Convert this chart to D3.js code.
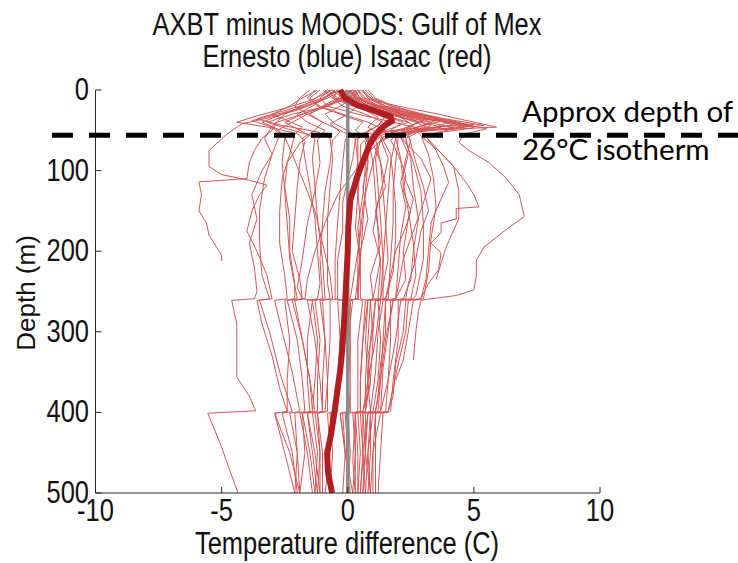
<!DOCTYPE html>
<html><head><meta charset="utf-8">
<script src="https://cdn.jsdelivr.net/npm/d3@7"></script>
<style>body{margin:0;background:#fff}svg{display:block}</style>
</head><body>
<svg id="c" width="738" height="563"></svg>
<script>
// ---- data (depth m, temperature difference C) ----
const titleLines = ["AXBT minus MOODS: Gulf of Mex", "Ernesto (blue) Isaac (red)"];
const xTicks = [-10, -5, 0, 5, 10];
const yTicks = [0, 100, 200, 300, 400, 500];
const xLabel = "Temperature difference (C)";
const yLabel = "Depth (m)";
const isothermDepth = 56;
const isothermText = ["Approx depth of", "26°C isotherm"];
const zeroLine = [[0, 0], [500, 0]];

const meanProfile = [[0,-0.3],[10,-0.1],[19,0.4],[27,1.2],[33,1.7],[38,1.75],[42,1.55],[50,1.25],[56,1.1],[66,0.9],[77,0.75],[93,0.55],[110,0.35],[137,0.1],[170,0.02],[200,0.0],[230,-0.05],[261,-0.1],[290,-0.15],[323,-0.22],[348,-0.3],[375,-0.42],[398,-0.52],[425,-0.65],[451,-0.82],[475,-0.78],[500,-0.62]];

const profiles = [
 [[0,0.4],[10,0.6],[20,2.0],[30,3.6],[40,5.0],[46,5.9],[50,3.2],[54,2.0],[62,1.7],[80,2.0],[105,2.3],[125,2.2],[150,2.5],[170,2.3],[200,1.9],[230,1.7],[259,1.5],[261,1.1],[300,1.0],[330,0.8],[365,0.9],[399,0.6],[401,0.4],[450,0.5],[500,0.4]],
 [[0,-0.1],[8,0.3],[18,1.0],[28,2.4],[36,3.9],[44,5.4],[49,3.4],[55,1.4],[65,1.0],[90,1.3],[120,1.5],[140,1.2],[175,1.0],[210,1.3],[259,1.0],[261,1.3],[310,1.1],[360,0.8],[399,0.9],[401,0.6],[460,0.6],[500,0.5]],
 [[0,0.5],[10,0.9],[20,1.5],[30,2.8],[40,4.2],[48,5.5],[55,4.6],[65,4.4],[75,4.8],[90,5.6],[110,6.3],[130,6.8],[157,7.0],[175,6.2],[195,5.4],[211,5.1],[230,5.1],[248,5.0],[255,4.3],[259,3.3],[261,2.9],[275,2.8],[300,2.7],[335,2.6]],
 [[0,-0.3],[10,0.2],[20,0.9],[30,2.2],[38,3.6],[45,4.8],[52,3.6],[60,3.0],[75,3.6],[95,4.2],[115,4.7],[130,5.0],[145,5.2],[147,4.3],[160,4.3],[165,3.7],[177,3.7],[190,3.3],[202,3.7],[223,3.6],[240,3.2],[259,2.9],[261,2.3],[300,2.2],[340,1.9],[380,1.8],[399,1.6],[401,1.3],[450,1.0],[500,0.9]],
 [[0,0.2],[10,0.5],[20,1.3],[30,2.6],[42,4.6],[48,3.0],[56,2.4],[66,2.5],[90,2.7],[120,3.0],[150,3.2],[175,2.9],[210,2.7],[240,2.4],[259,2.3],[261,1.8],[300,1.6],[345,1.4],[399,1.3],[401,0.9],[450,0.9],[500,0.8]],
 [[0,-0.6],[10,-0.2],[20,0.6],[30,2.0],[38,3.8],[45,2.9],[52,1.8],[60,1.3],[85,1.6],[115,1.4],[150,1.1],[190,1.3],[230,0.9],[259,1.0],[261,0.7],[310,0.6],[360,0.5],[399,0.5],[401,0.3],[460,0.2],[500,0.3]],
 [[0,0.1],[10,0.3],[22,0.9],[32,2.1],[40,3.2],[47,4.2],[52,2.6],[58,2.1],[80,2.4],[105,2.2],[135,2.6],[160,2.4],[200,2.2],[235,2.3],[259,1.9],[261,1.4],[300,1.2],[350,1.1],[399,0.9],[401,0.7],[450,0.7],[500,0.6]],
 [[0,-0.4],[12,0.1],[24,1.0],[34,2.2],[44,3.3],[50,2.8],[58,3.1],[75,3.5],[95,3.8],[115,4.0],[135,3.7],[165,3.3],[200,3.2],[235,3.1],[259,2.9],[261,2.4],[300,2.3],[340,2.0],[399,1.6],[401,1.1],[450,1.1],[500,1.1]],
 [[0,0.6],[10,0.8],[20,1.4],[30,2.2],[40,2.8],[48,2.2],[55,1.0],[65,0.7],[90,0.8],[120,0.6],[160,0.8],[200,0.5],[240,0.4],[259,0.4],[261,0.1],[320,0.1],[370,0.0],[399,0.0],[401,-0.3],[450,-0.1],[500,0.1]],
 [[0,-1.0],[10,-0.6],[20,0.2],[30,1.8],[38,3.4],[43,5.0],[48,2.6],[54,0.8],[62,0.3],[85,0.2],[110,0.0],[140,-0.2],[175,-0.2],[210,-0.4],[259,-0.4],[261,-0.7],[310,-0.7],[360,-0.8],[399,-0.9],[401,-1.2],[450,-1.1],[500,-1.1]],
 [[0,0.0],[8,0.2],[18,0.9],[28,2.3],[36,3.6],[44,3.0],[52,2.2],[62,2.5],[85,2.3],[115,2.1],[145,2.3],[180,2.1],[220,2.0],[259,1.9],[261,1.5],[310,1.4],[360,1.3],[399,1.2],[401,0.9],[450,0.8],[500,0.7]],
 [[0,0.3],[12,0.5],[25,1.6],[35,3.0],[45,4.8],[50,3.0],[56,1.8],[66,1.2],[90,1.0],[115,0.8],[145,0.6],[180,0.5],[220,0.3],[259,0.1],[261,-0.4],[310,-0.3],[360,-0.4],[399,-0.5],[401,-0.8],[450,-0.7],[500,-0.9]],
 [[0,-0.8],[10,-0.4],[22,0.4],[32,1.5],[40,2.4],[48,1.7],[56,0.9],[68,0.5],[95,0.5],[130,0.4],[170,0.3],[210,0.5],[259,0.4],[261,0.0],[320,0.1],[370,0.1],[399,0.1],[401,-0.1],[450,0.0],[500,0.0]],
 [[0,0.7],[10,1.0],[20,1.7],[30,2.9],[40,4.0],[46,3.5],[52,2.3],[60,1.9],[85,2.1],[115,2.2],[150,2.4],[190,2.6],[230,2.7],[259,2.5],[261,2.0],[310,2.0],[360,1.8],[399,1.7],[401,1.4],[450,1.3],[500,1.2]],
 [[0,-0.5],[15,-1.2],[25,-2.0],[35,-3.2],[42,-4.2],[55,-4.8],[75,-5.5],[95,-5.5],[105,-5.0],[112,-3.9],[118,-3.2],[130,-3.5],[150,-3.8],[175,-4.0],[200,-3.6],[230,-3.2],[259,-3.0],[261,-3.6],[290,-3.4],[330,-3.0],[370,-2.7],[399,-2.4],[401,-2.9],[450,-2.3],[500,-1.9]],
 [[0,0.2],[15,-0.5],[30,-1.8],[40,-2.8],[50,-3.0],[60,-3.4],[75,-3.7],[90,-3.9],[110,-4.0],[114,-5.9],[130,-5.8],[150,-5.9],[165,-5.6],[180,-5.5],[195,-5.2],[205,-5.0],[212,-5.0]],
 [[0,-0.8],[15,-1.5],[30,-2.5],[45,-3.0],[60,-3.3],[80,-3.0],[100,-3.4],[130,-3.8],[160,-3.6],[190,-3.9],[220,-3.7],[250,-3.6],[259,-3.7],[261,-4.6],[290,-4.4],[320,-4.4],[356,-4.4],[380,-3.9],[398,-3.65],[401,-5.55],[443,-5.0],[470,-4.7],[500,-4.35]],
 [[0,-0.2],[10,-0.8],[20,-1.6],[30,-2.8],[38,-3.8],[46,-3.0],[55,-2.7],[80,-3.0],[110,-3.3],[150,-3.5],[190,-3.5],[230,-3.4],[259,-3.1],[261,-3.5],[300,-3.1],[350,-2.7],[399,-2.2],[401,-2.6],[450,-2.2],[500,-2.0]],
 [[0,-1.2],[10,-1.8],[20,-2.3],[30,-3.0],[38,-2.4],[46,-1.8],[55,-2.1],[80,-2.3],[110,-2.6],[150,-2.7],[190,-2.7],[230,-2.5],[259,-2.4],[261,-2.9],[300,-2.6],[350,-2.2],[399,-1.9],[401,-2.3],[450,-2.0],[500,-1.9]],
 [[0,-0.6],[12,-1.4],[22,-2.4],[32,-3.6],[40,-4.4],[46,-3.2],[54,-2.0],[64,-1.7],[90,-1.9],[120,-2.0],[160,-2.1],[200,-2.2],[235,-1.9],[259,-1.8],[261,-2.2],[310,-1.8],[360,-1.5],[399,-1.4],[401,-1.8],[450,-1.5],[500,-1.3]],
 [[0,-1.5],[10,-1.9],[20,-2.1],[30,-1.6],[40,-1.0],[50,-1.3],[60,-1.8],[85,-1.7],[120,-1.5],[160,-1.3],[200,-1.2],[240,-1.1],[259,-1.2],[261,-1.6],[310,-1.3],[360,-1.1],[399,-1.0],[401,-1.3],[450,-1.1],[500,-1.2]],
 [[0,-0.3],[10,-1.0],[20,-1.9],[30,-3.0],[36,-3.6],[44,-2.6],[52,-1.2],[60,-0.7],[85,-0.6],[120,-0.7],[160,-0.8],[200,-0.8],[240,-0.8],[259,-0.7],[261,-1.1],[310,-0.9],[360,-1.0],[399,-1.0],[401,-1.4],[450,-1.2],[500,-1.3]],
 [[0,0.4],[10,0.0],[20,-0.8],[30,-2.2],[40,-3.2],[48,-2.4],[56,-1.5],[66,-1.9],[90,-2.4],[120,-2.5],[160,-2.3],[200,-2.3],[240,-2.1],[259,-2.1],[261,-2.5],[310,-2.3],[360,-2.4],[399,-2.4],[401,-2.9],[450,-2.5],[500,-2.1]],
 [[0,0.0],[10,0.3],[20,0.8],[32,1.5],[44,1.2],[54,0.6],[66,0.8],[95,0.7],[130,0.6],[170,0.4],[210,0.5],[259,0.5],[261,0.8],[310,0.6],[360,0.5],[399,0.5],[401,0.2],[450,0.3],[500,0.3]],
 [[0,-0.4],[10,-0.1],[22,0.5],[34,1.2],[46,0.8],[56,1.3],[80,1.7],[110,1.8],[145,1.9],[185,1.9],[225,1.8],[259,1.5],[261,1.1],[310,0.9],[360,0.8],[399,0.6],[401,0.3],[450,0.3],[500,0.2]],
 [[0,0.5],[10,0.2],[20,-0.3],[30,-0.9],[42,-0.5],[52,0.1],[62,-0.1],[90,-0.2],[125,-0.3],[165,-0.4],[210,-0.5],[259,-0.5],[261,-0.1],[310,-0.3],[360,-0.4],[399,-0.4],[401,-0.7],[450,-0.6],[500,-0.7]],
 [[0,-1.1],[10,-1.5],[20,-1.2],[30,-0.3],[40,0.6],[50,0.3],[60,0.8],[90,1.0],[130,1.1],[175,1.2],[220,1.3],[259,1.2],[261,0.8],[310,0.7],[360,0.8],[399,0.7],[401,0.5],[450,0.6],[500,0.7]],
 [[0,0.2],[10,0.4],[20,1.1],[30,2.4],[40,3.3],[48,2.6],[56,2.9],[80,3.2],[110,3.4],[145,3.5],[185,3.3],[225,3.2],[259,3.0],[261,2.6],[300,2.4],[335,2.2],[360,1.9]],
 [[0,-0.7],[10,-1.1],[20,-0.8],[30,0.4],[40,1.8],[48,2.9],[54,2.0],[62,1.3],[85,1.1],[120,1.2],[160,1.3],[210,1.4],[259,1.3],[261,0.9],[310,1.0],[360,0.9],[399,0.7],[401,0.3],[450,0.4],[500,0.4]],
 [[0,0.1],[10,-0.3],[20,-0.9],[30,-1.8],[40,-2.5],[50,-1.9],[60,-1.3],[85,-1.4],[120,-1.3],[160,-1.2],[210,-1.0],[259,-0.9],[261,-1.3],[310,-1.1],[360,-1.2],[399,-1.2],[401,-1.6],[450,-1.3],[500,-1.1]],
 [[0,-0.2],[10,0.1],[20,0.5],[30,1.3],[40,2.2],[50,1.7],[60,1.9],[90,1.7],[130,1.6],[170,1.5],[215,1.4],[259,1.4],[261,1.8],[310,1.5],[360,1.3],[399,1.1],[401,0.8],[450,0.7],[500,0.9]],
 [[0,0.3],[10,0.1],[20,0.4],[30,0.0],[42,-0.7],[52,-0.3],[62,-0.6],[90,-0.7],[125,-0.9],[165,-1.0],[210,-1.1],[259,-1.0],[261,-1.4],[310,-1.2],[360,-1.3],[399,-1.4],[401,-1.8],[450,-1.7],[500,-1.9]],
 [[0,-0.9],[10,-0.5],[20,0.3],[30,1.1],[40,1.9],[50,1.3],[60,0.8],[90,0.8],[125,0.7],[165,0.6],[210,0.5],[259,0.3],[261,0.6],[310,0.4],[360,0.4],[399,0.4],[401,0.0],[450,0.1],[500,0.0]],
 [[0,0.0],[10,-0.4],[20,-1.0],[30,-1.5],[40,-1.0],[50,-0.3],[60,0.3],[90,0.4],[125,0.4],[165,0.5],[210,0.4],[259,0.4],[261,0.1],[310,0.0],[360,0.0],[399,0.0],[401,-0.2],[450,-0.1],[500,-0.2]],
 [[0,0.8],[10,1.1],[20,1.8],[30,3.0],[40,4.4],[47,5.0],[52,3.8],[58,3.1],[75,3.6],[95,4.2],[125,4.4],[160,4.4],[195,3.9],[235,3.5]],
 [[0,-0.5],[10,-0.9],[20,-1.4],[30,-2.0],[40,-1.6],[50,-0.9],[62,-1.2],[90,-1.1],[125,-1.3],[165,-1.6],[210,-1.8],[245,-2.0],[259,-1.8],[261,-1.4],[310,-1.6],[360,-1.6],[399,-1.5],[401,-1.9],[450,-1.6],[500,-1.4]],
 [[0,0.6],[10,0.9],[20,1.5],[30,2.5],[40,3.8],[46,4.5],[52,2.8],[60,2.3],[85,2.5],[120,2.6],[160,2.8],[200,2.6],[235,2.5],[259,2.2],[261,1.7],[310,1.7],[360,1.6],[399,1.5],[401,1.1],[450,1.0],[500,1.0]],
 [[0,-0.3],[10,-0.6],[20,-0.2],[30,0.7],[40,1.4],[50,0.9],[60,0.4],[90,0.4],[125,0.2],[165,0.1],[210,0.0],[259,-0.1],[261,0.2],[310,0.0],[360,0.0],[399,0.1],[401,-0.3],[450,-0.1],[500,0.2]],
 [[0,0.2],[10,-0.2],[20,-0.8],[30,-1.6],[40,-2.2],[50,-2.8],[60,-2.5],[90,-2.6],[125,-2.5],[165,-2.4],[210,-2.3],[259,-2.0],[261,-2.4],[310,-2.0],[360,-1.8],[399,-1.7],[401,-2.1],[450,-2.0],[500,-2.1]],
 [[0,-0.1],[10,0.2],[20,0.7],[30,1.7],[40,2.7],[46,3.1],[52,2.4],[60,2.0],[90,1.9],[125,1.8],[165,1.8],[210,1.7],[259,1.6],[261,1.2],[310,1.3],[360,1.2],[399,1.0],[401,0.6],[450,0.7],[500,0.6]],
 [[0,-1.3],[10,-1.6],[20,-1.1],[30,-0.2],[40,0.8],[50,1.5],[60,1.1],[90,1.3],[125,1.4],[165,1.5],[210,1.6],[259,1.3],[261,0.9],[310,0.8],[360,0.7],[399,0.7]],
 [[0,0.4],[10,0.7],[20,1.2],[32,2.0],[44,2.6],[54,2.0],[64,2.3],[90,2.6],[125,2.9],[165,3.0],[210,3.0],[255,2.7],[259,2.6],[261,2.1],[310,1.9],[360,1.6],[399,1.3],[401,1.0],[450,0.8],[500,0.9]],
 [[0,-0.4],[10,-0.9],[20,-1.7],[30,-2.6],[40,-3.4],[48,-2.8],[58,-2.5],[80,-2.2],[110,-1.8],[150,-1.3],[190,-1.0],[230,-0.7],[259,-0.6],[261,-1.0],[310,-0.9],[360,-0.8],[399,-0.8],[401,-1.2],[450,-1.0],[500,-1.0]],
 [[0,0.1],[10,0.4],[20,1.0],[30,2.1],[38,3.0],[46,2.4],[56,1.5],[75,0.9],[100,0.3],[130,-0.4],[165,-0.9],[200,-1.3],[235,-1.6],[259,-1.7],[261,-2.1],[310,-1.8],[360,-1.5],[399,-1.3],[401,-1.6],[450,-1.4],[500,-1.2]],
 [[0,-0.2],[10,0.0],[20,0.6],[30,1.6],[40,2.9],[46,3.7],[52,2.6],[60,2.1],[85,2.9],[110,3.3],[140,3.0],[175,2.6],[210,2.2],[245,2.0],[259,1.9],[261,1.5],[300,1.5],[340,1.3],[380,1.2],[399,1.1],[401,0.8],[450,0.6],[500,0.5]]
];

// ---- drawing ----
const svg = d3.select("#c");
const W = 738, H = 563;
const x = d3.scaleLinear().domain([-10, 10]).range([95.5, 600]);
const y = d3.scaleLinear().domain([0, 500]).range([90, 493]);
const line = d3.line().x(d => x(d[1])).y(d => y(d[0]));
const FONT = "'Liberation Sans', Arial, Helvetica, sans-serif";
const SY = 1.2;

const g = svg.append("g");
g.selectAll("path.prof").data(profiles).join("path")
  .attr("class", "prof")
  .attr("d", line)
  .attr("fill", "none")
  .attr("stroke", "rgb(212,86,86)")
  .attr("stroke-width", 1)
  .attr("stroke-linejoin", "round");

g.append("path").attr("d", line(zeroLine))
  .attr("fill", "none").attr("stroke", "#8c8c8c").attr("stroke-width", 3.5);

g.append("path").attr("d", line(meanProfile))
  .attr("fill", "none").attr("stroke", "#b01e22").attr("stroke-width", 6)
  .attr("stroke-linejoin", "round");

// axes (left + bottom, ticks inside)
const ax = svg.append("g").attr("stroke", "#262626").attr("stroke-width", 1).attr("fill", "none");
ax.append("line").attr("x1", x(-10)).attr("x2", x(-10)).attr("y1", y(0)).attr("y2", y(500));
ax.append("line").attr("x1", x(-10)).attr("x2", x(10)).attr("y1", y(500)).attr("y2", y(500));
xTicks.forEach(t => ax.append("line").attr("x1", x(t)).attr("x2", x(t)).attr("y1", y(500)).attr("y2", y(500) - 6));
yTicks.forEach(t => ax.append("line").attr("x1", x(-10)).attr("x2", x(-10) + 6).attr("y1", y(t)).attr("y2", y(t)));

function stext(tx, ty, s, anchor, size) {
  svg.append("text")
    .attr("transform", `translate(${tx},${ty}) scale(1,${SY})`)
    .attr("text-anchor", anchor)
    .attr("font-family", FONT)
    .attr("font-size", size)
    .attr("fill", "#111")
    .text(s);
}
xTicks.forEach(t => stext(x(t), 521, String(t), "middle", 25.5));
yTicks.forEach(t => stext(89, y(t) + 10, String(t), "end", 25.5));
stext(347, 35, titleLines[0], "middle", 25.5);
stext(347, 67, titleLines[1], "middle", 25.5);
stext(347, 554, xLabel, "middle", 25.5);
svg.append("text")
  .attr("transform", `translate(35,293) rotate(-90)`)
  .attr("text-anchor", "middle")
  .attr("font-family", FONT).attr("font-size", 26).attr("fill", "#111")
  .text(yLabel);

// isotherm dashed line + annotation
svg.append("line")
  .attr("x1", 52).attr("x2", W).attr("y1", y(isothermDepth)).attr("y2", y(isothermDepth))
  .attr("stroke", "#000").attr("stroke-width", 5).attr("stroke-dasharray", "21 16");
isothermText.forEach((s, i) => svg.append("text")
  .attr("x", 522).attr("y", 122 + i * 38)
  .attr("font-family", "Lato, 'Open Sans', sans-serif")
  .attr("font-size", 29.5).attr("fill", "#000")
  .text(s));
</script>
</body></html>
